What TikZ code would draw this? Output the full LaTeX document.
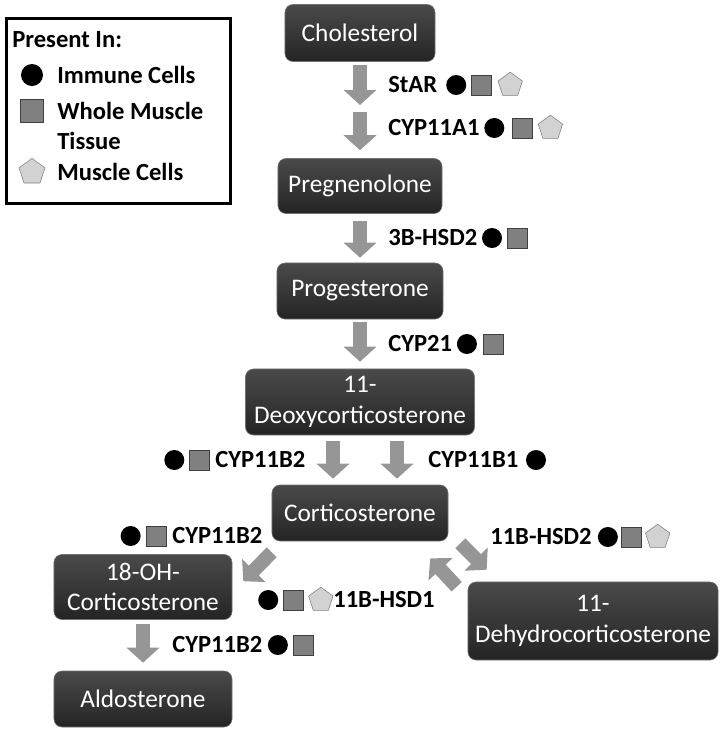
\documentclass[tikz,border=0pt]{standalone}
\usepackage{fontspec}
\setmainfont{Carlito}
\usetikzlibrary{shapes.geometric, arrows.meta, positioning, calc}

\definecolor{boxtop}{RGB}{74,74,74}
\definecolor{boxbot}{RGB}{36,36,36}
\definecolor{arrowgray}{RGB}{150,150,150}
\definecolor{tissuegray}{RGB}{128,128,128}
\definecolor{cellgray}{RGB}{210,210,210}

\begin{document}
\begin{tikzpicture}[
    x=0.025cm, y=-0.025cm,
    metab/.style={rectangle, draw=black!55, rounded corners=0.2cm, top color=boxtop, bottom color=boxbot, text=white, align=center, inner sep=0pt, font=\fontsize{18}{21.5}\selectfont},
    blk/.style={draw=arrowgray, line width=0.35cm, -{Triangle[length=0.375cm, width=0.8cm]}},
    enz/.style={inner sep=0pt, font=\bfseries\fontsize{17.5}{21}\selectfont},
    imm/.style={circle, fill=black, minimum size=0.5cm, inner sep=0pt},
    whl/.style={rectangle, fill=tissuegray, draw=black!75, minimum size=0.5cm, inner sep=0pt},
    msc/.style={regular polygon, regular polygon sides=5, fill=cellgray, draw=black!50, minimum size=0.64cm, inner sep=0pt}
]
    \useasboundingbox (0,0) rectangle (723,732);

    % Legend
    \node[draw, line width=2.1pt, minimum width=5.6cm, minimum height=4.625cm, anchor=north west, inner sep=0pt] (legend) at (5,17) {};
    \node[enz, anchor=west] (present) at (12,40) {Present In:};
    \node[imm, minimum size=0.55cm] (keyI) at (32,75) {};
    \node[enz, anchor=west] (keyIt) at (57,75) {Immune Cells};
    \node[whl, minimum size=0.575cm] (keyW) at (32,111) {};
    \node[enz, anchor=west, align=left] (keyWt) at (57,126) {Whole Muscle\\Tissue};
    \node[msc, minimum size=0.68cm] (keyM) at (32,172) {};
    \node[enz, anchor=west] (keyMt) at (57,172) {Muscle Cells};

    % Metabolites
    \node[metab, minimum width=3.75cm, minimum height=1.425cm] (chol) at (360,33) {Cholesterol};
    \node[metab, minimum width=4.1cm, minimum height=1.375cm] (preg) at (360,186) {Pregnenolone};
    \node[metab, minimum width=4.15cm, minimum height=1.4cm] (prog) at (360,291) {Progesterone};
    \node[metab, minimum width=5.725cm, minimum height=1.65cm] (deoxy) at (360,402) {11-\\Deoxycorticosterone};
    \node[metab, minimum width=4.4cm, minimum height=1.4cm] (cort) at (360,513) {Corticosterone};
    \node[metab, minimum width=4.45cm, minimum height=1.625cm] (oh18) at (143,587) {18-OH-\\Corticosterone};
    \node[metab, minimum width=4.45cm, minimum height=1.4cm] (aldo) at (143,699) {Aldosterone};
    \node[metab, minimum width=6.25cm, minimum height=1.95cm] (dehydro) at (593,621) {11-\\Dehydrocorticosterone};
    \coordinate (side) at (360,108);

    % Block arrows
    \draw[blk, shorten <=0.075cm, shorten >=0.075cm] (chol) -- (side);
    \draw[blk, shorten <=0.1cm, shorten >=0.2cm] (side) -- (preg);
    \draw[blk, shorten <=0.175cm, shorten >=0.125cm] (preg) -- (prog);
    \draw[blk, shorten <=0.075cm, shorten >=0.175cm] (prog) -- (deoxy);
    \draw[blk, shorten <=0.15cm, shorten >=0.15cm] ([xshift=-0.675cm]deoxy.south) -- ([xshift=-0.675cm]cort.north);
    \draw[blk, shorten <=0.15cm, shorten >=0.15cm] ([xshift=0.925cm]deoxy.south) -- ([xshift=0.925cm]cort.north);
    \draw[blk] ([shift={(0,11)}]cort.south west) -- ([shift={(11,27)}]oh18.north east);
    \draw[blk] ([shift={(12,2)}]cort.south east) -- ([shift={(19,-12)}]dehydro.north west);
    \draw[blk] ([shift={(-11,5)}]dehydro.north west) -- ([shift={(-18,17)}]cort.south east);
    \draw[blk, shorten <=0.1cm, shorten >=0.2cm] (oh18) -- (aldo);

    % Enzymes
    \node[enz, anchor=west] (star) at (388,85) {StAR};
    \node[imm, right=6pt of star] (starI) {};
    \node[whl, right=3.5pt of starI] (starW) {};
    \node[msc, right=5pt of starW] (starM) {};

    \node[enz, anchor=west] (cypa) at (388,128) {CYP11A1};
    \node[imm, right=3pt of cypa] (cypaI) {};
    \node[whl, right=5pt of cypaI] (cypaW) {};
    \node[msc, right=5pt of cypaW] (cypaM) {};

    \node[enz, anchor=west] (hsdb) at (388,238) {3B-HSD2};
    \node[imm, right=3pt of hsdb] (hsdbI) {};
    \node[whl, right=3.5pt of hsdbI] (hsdbW) {};

    \node[enz, anchor=west] (cyp21) at (388,344) {CYP21};
    \node[imm, right=3pt of cyp21] (cyp21I) {};
    \node[whl, right=4pt of cyp21I] (cyp21W) {};

    \node[enz, anchor=west] (cypbl) at (215,460) {CYP11B2};
    \node[whl, left=4pt of cypbl] (cypblW) {};
    \node[imm, left=3pt of cypblW] (cypblI) {};

    \node[enz, anchor=west] (cypbr) at (428,460) {CYP11B1};
    \node[imm, right=5pt of cypbr] (cypbrI) {};

    \node[enz, anchor=west] (cypbu) at (172,536) {CYP11B2};
    \node[whl, left=4pt of cypbu] (cypbuW) {};
    \node[imm, left=3.5pt of cypbuW] (cypbuI) {};

    \node[enz, anchor=west] (hsdone) at (333,600) {11B-HSD1};
    \node[msc, left=0.7pt of hsdone] (hsdoneM) {};
    \node[whl, left=4pt of hsdoneM] (hsdoneW) {};
    \node[imm, left=3.5pt of hsdoneW] (hsdoneI) {};

    \node[enz, anchor=west] (hsdtwo) at (490,537) {11B-HSD2};
    \node[imm, right=4pt of hsdtwo] (hsdtwoI) {};
    \node[whl, right=2pt of hsdtwoI] (hsdtwoW) {};
    \node[msc, right=3.5pt of hsdtwoW] (hsdtwoM) {};

    \node[enz, anchor=west] (cypbd) at (172,645) {CYP11B2};
    \node[imm, right=3.5pt of cypbd] (cypbdI) {};
    \node[whl, right=3.5pt of cypbdI] (cypbdW) {};
\end{tikzpicture}
\end{document}
